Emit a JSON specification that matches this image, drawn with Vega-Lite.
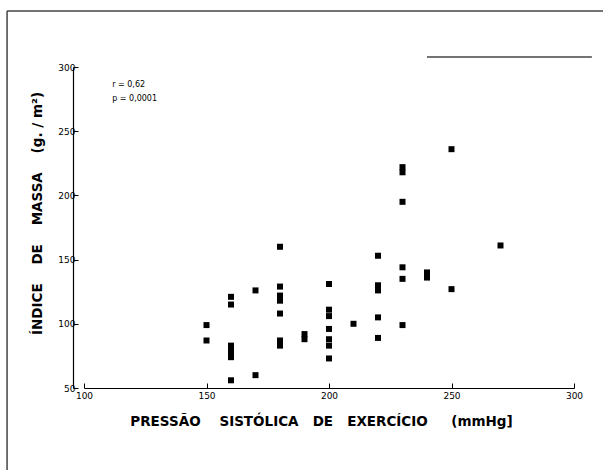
{
  "$schema": "https://vega.github.io/schema/vega-lite/v6.json",
  "width": 490,
  "height": 321,
  "autosize": {"type": "none"},
  "padding": {"left": 84, "top": 67, "right": 29, "bottom": 82},
  "background": "white",
  "config": {"view": {"stroke": null}, "font": "DejaVu Sans"},
  "datasets": {
    "pts": [
      {"pas": 150, "imc": 99}, {"pas": 150, "imc": 87},
      {"pas": 160, "imc": 121}, {"pas": 160, "imc": 115}, {"pas": 160, "imc": 83}, {"pas": 160, "imc": 80}, {"pas": 160, "imc": 77}, {"pas": 160, "imc": 74}, {"pas": 160, "imc": 56},
      {"pas": 170, "imc": 126}, {"pas": 170, "imc": 60},
      {"pas": 180, "imc": 160}, {"pas": 180, "imc": 129}, {"pas": 180, "imc": 122}, {"pas": 180, "imc": 118}, {"pas": 180, "imc": 108}, {"pas": 180, "imc": 87}, {"pas": 180, "imc": 83},
      {"pas": 190, "imc": 92}, {"pas": 190, "imc": 88},
      {"pas": 200, "imc": 131}, {"pas": 200, "imc": 111}, {"pas": 200, "imc": 106}, {"pas": 200, "imc": 96}, {"pas": 200, "imc": 88}, {"pas": 200, "imc": 83}, {"pas": 200, "imc": 73},
      {"pas": 210, "imc": 100},
      {"pas": 220, "imc": 153}, {"pas": 220, "imc": 130}, {"pas": 220, "imc": 126}, {"pas": 220, "imc": 105}, {"pas": 220, "imc": 89},
      {"pas": 230, "imc": 222}, {"pas": 230, "imc": 218}, {"pas": 230, "imc": 195}, {"pas": 230, "imc": 144}, {"pas": 230, "imc": 135}, {"pas": 230, "imc": 99},
      {"pas": 240, "imc": 140}, {"pas": 240, "imc": 136},
      {"pas": 250, "imc": 236}, {"pas": 250, "imc": 127},
      {"pas": 270, "imc": 161}
    ],
    "notes": [
      {"pas": 111.5, "imc": 286, "label": "r = 0,62"},
      {"pas": 111.5, "imc": 275, "label": "p = 0,0001"}
    ],
    "frame": [
      {"pas": 68.6, "imc": 343.6, "pas2": 68.6, "imc2": -14},
      {"pas": 68.6, "imc": 343.6, "pas2": 312, "imc2": 343.6},
      {"pas": 240, "imc": 307.8, "pas2": 307.3, "imc2": 307.8}
    ]
  },
  "layer": [
    {
      "data": {"name": "pts"},
      "mark": {"type": "point", "shape": "square", "filled": true, "color": "black", "size": 36, "opacity": 1},
      "encoding": {
        "x": {
          "field": "pas", "type": "quantitative",
          "scale": {"domain": [100, 300], "nice": false, "zero": false},
          "axis": {
            "values": [100, 150, 200, 250, 300],
            "grid": false,
            "tickSize": -5,
            "tickColor": "black",
            "domainColor": "black",
            "domainWidth": 1.2,
            "labelFlush": false,
            "labelFontSize": 9,
            "labelColor": "black",
            "labelPadding": 8,
            "title": "PRESSÃO\u00a0\u00a0\u00a0\u00a0SISTÓLICA\u00a0\u00a0\u00a0DE\u00a0\u00a0\u00a0EXERCÍCIO\u00a0\u00a0\u00a0\u00a0\u00a0(mmHg]",
            "titleFontSize": 13.5,
            "titleFontWeight": "bold",
            "titleColor": "black",
            "titleX": 237,
            "titleY": 33,
            "titleBaseline": "middle",
            "titleAlign": "center"
          }
        },
        "y": {
          "field": "imc", "type": "quantitative",
          "scale": {"domain": [50, 300], "nice": false, "zero": false},
          "axis": {
            "values": [50, 100, 150, 200, 250, 300],
            "grid": false,
            "offset": 11,
            "tickSize": -5,
            "tickColor": "black",
            "domainColor": "black",
            "domainWidth": 1.2,
            "labelFlush": false,
            "labelFontSize": 9,
            "labelColor": "black",
            "labelPadding": 3,
            "title": "ÍNDICE\u00a0\u00a0\u00a0\u00a0DE\u00a0\u00a0\u00a0\u00a0MASSA\u00a0\u00a0\u00a0\u00a0(g.\u00a0/\u00a0m²)",
            "titleFontSize": 13.5,
            "titleFontWeight": "bold",
            "titleColor": "black",
            "titleX": -36,
            "titleY": 146,
            "titleAngle": 270,
            "titleBaseline": "middle",
            "titleAlign": "center"
          }
        }
      }
    },
    {
      "data": {"name": "notes"},
      "mark": {"type": "text", "align": "left", "baseline": "middle", "fontSize": 8, "color": "black"},
      "encoding": {
        "x": {"field": "pas", "type": "quantitative"},
        "y": {"field": "imc", "type": "quantitative"},
        "text": {"field": "label"}
      }
    },
    {
      "data": {"name": "frame"},
      "mark": {"type": "rule", "color": "#444", "strokeWidth": 1.5, "clip": false},
      "encoding": {
        "x": {"field": "pas", "type": "quantitative"},
        "x2": {"field": "pas2"},
        "y": {"field": "imc", "type": "quantitative"},
        "y2": {"field": "imc2"}
      }
    }
  ]
}
